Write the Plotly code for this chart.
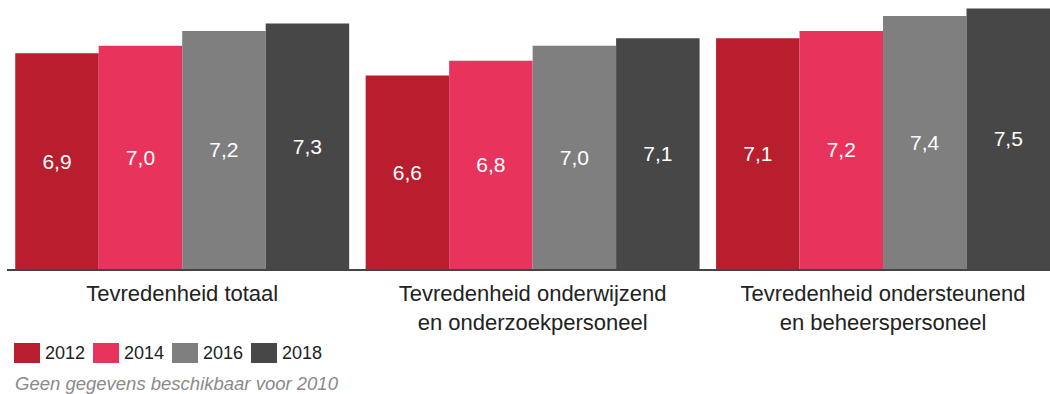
import plotly.graph_objects as go

# Survey satisfaction scores per staff group and survey year
categories = [
    "Tevredenheid totaal",
    "Tevredenheid onderwijzend<br>en onderzoekpersoneel",
    "Tevredenheid ondersteunend<br>en beheerspersoneel",
]
years = ["2012", "2014", "2016", "2018"]
scores_2012 = [6.9, 6.6, 7.1]
scores_2014 = [7.0, 6.8, 7.2]
scores_2016 = [7.2, 7.0, 7.4]
scores_2018 = [7.3, 7.1, 7.5]
colors = ["#B81E2D", "#E8345C", "#7F7F7F", "#474747"]
note = "Geen gegevens beschikbaar voor 2010"

series = [scores_2012, scores_2014, scores_2016, scores_2018]
FONT = "Arial, Liberation Sans, Helvetica, sans-serif"

# Value axis starts at 4, bars rise from there
Y_MIN, Y_MAX = 4.0, 7.615

W, H = 1050, 394
ML, MB = 7, 125
plot_w = W - ML
plot_h = H - MB


def fmt(v):
    return f"{v:.1f}".replace(".", ",")


fig = go.Figure()
for year, vals, col in zip(years, series, colors):
    fig.add_trace(go.Bar(
        x=categories,
        base=Y_MIN,
        y=[v - Y_MIN for v in vals],
        name=year,
        marker=dict(color=col, line=dict(width=0)),
        text=[fmt(v) for v in vals],
        textposition="inside",
        insidetextanchor="middle",
        textangle=0,
        textfont=dict(color="white", size=21, family=FONT),
        showlegend=False,
    ))

# Custom legend: wide colour swatches with year labels, plus a footnote
def px_x(px):
    return (px - ML) / plot_w

def px_y(py):
    return (plot_h - py) / plot_h

shapes = []
annotations = []
for i, (year, col) in enumerate(zip(years, colors)):
    x0 = 14 + 79 * i
    shapes.append(dict(type="rect", xref="paper", yref="paper",
                       x0=px_x(x0), x1=px_x(x0 + 26),
                       y0=px_y(363), y1=px_y(343),
                       fillcolor=col, line=dict(width=0)))
    annotations.append(dict(xref="paper", yref="paper",
                            x=px_x(x0 + 29), y=px_y(353),
                            xanchor="left", yanchor="middle",
                            text=year, showarrow=False,
                            font=dict(size=18, color="#222222", family=FONT)))
annotations.append(dict(xref="paper", yref="paper",
                        x=px_x(13), y=px_y(383),
                        xanchor="left", yanchor="middle",
                        text=f"<i>{note}</i>", showarrow=False,
                        font=dict(size=18.5, color="#8A8A8A", family=FONT)))

fig.update_layout(
    width=W, height=H,
    margin=dict(l=ML, r=0, t=0, b=MB, pad=0),
    paper_bgcolor="white", plot_bgcolor="white",
    barmode="group", bargap=0.047, bargroupgap=0,
    font=dict(family=FONT),
    uniformtext=dict(mode="show", minsize=21),
    shapes=shapes, annotations=annotations,
    xaxis=dict(
        range=[-0.5, 2.4765],
        showline=True, linecolor="#444444", linewidth=1.5,
        showgrid=False, ticks="", zeroline=False,
        ticklabelstandoff=4,
        tickfont=dict(size=22, color="#222222", family=FONT),
    ),
    yaxis=dict(range=[Y_MIN, Y_MAX], visible=False, showgrid=False, zeroline=False),
)

fig.write_html("out.html")
